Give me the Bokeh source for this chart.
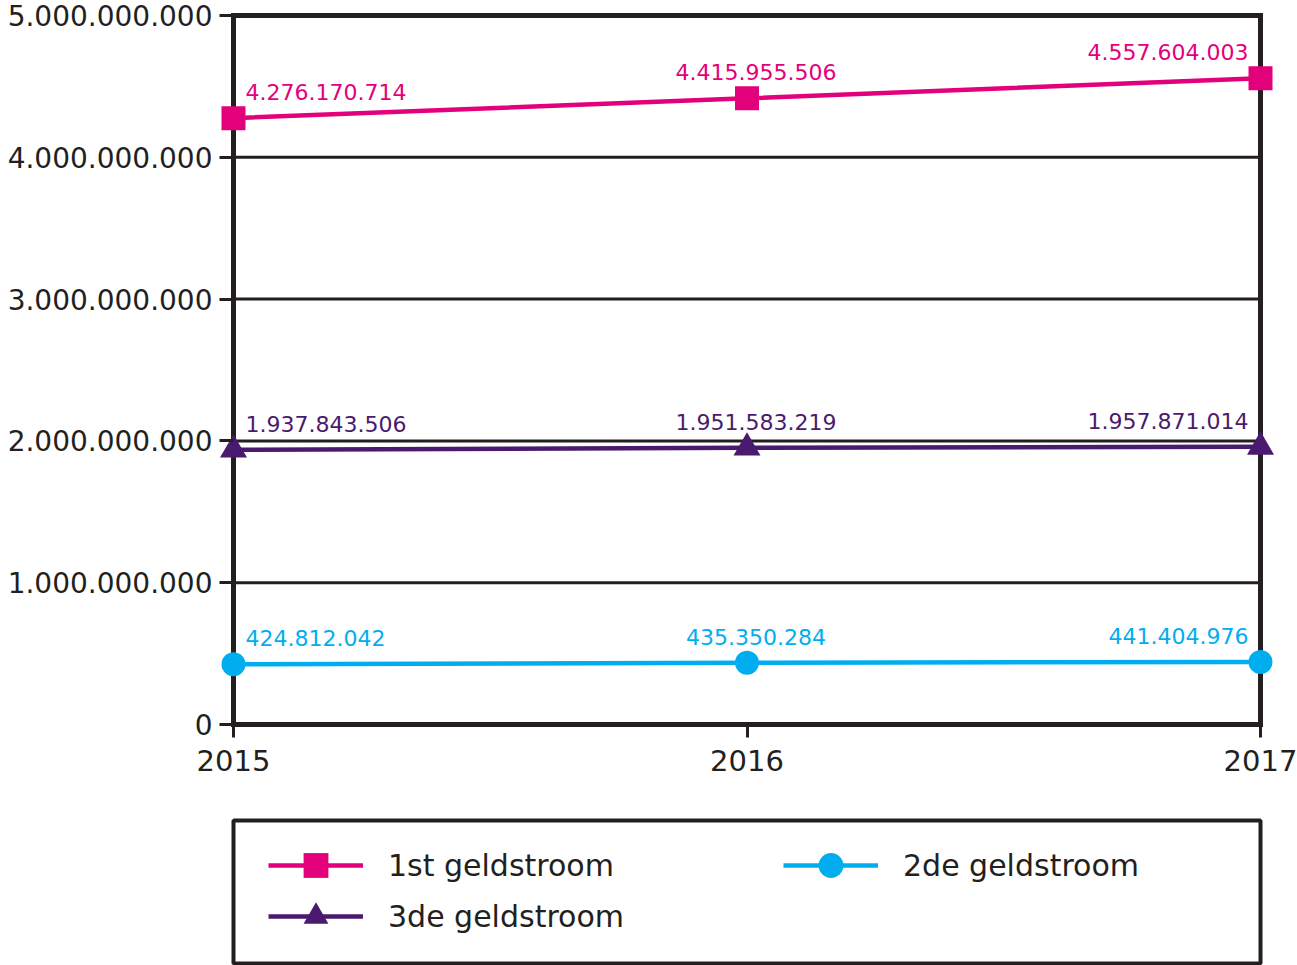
from bokeh.plotting import figure
from bokeh.models import Range1d, FixedTicker, ColumnDataSource, Legend, LegendItem
from bokeh.embed import file_html
from bokeh.resources import INLINE
from bokeh.core.properties import value, field

# ---- data ----
years = [2015, 2016, 2017]
first_stream = [4276170714, 4415955506, 4557604003]
second_stream = [424812042, 435350284, 441404976]
third_stream = [1937843506, 1951583219, 1957871014]
series_names = ["1st geldstroom", "2de geldstroom", "3de geldstroom"]
yticks = [0, 1000000000, 2000000000, 3000000000, 4000000000, 5000000000]
ytick_labels = ["0", "1.000.000.000", "2.000.000.000", "3.000.000.000",
                "4.000.000.000", "5.000.000.000"]


def fmt(v):
    return f"{v:,}".replace(",", ".")


# ---- styles ----
INK = "#231f20"
PINK = "#e3007b"
CYAN = "#00aeef"
PURPLE = "#4a1a6e"
FONT = "DejaVu Sans"
label_align = ["left", "center", "right"]
label_xoff = [12, 9, -12]

px_per_year = 1027 / 2
x_pad = 14 / px_per_year
px_per_unit = 709 / yticks[-1]
y_pad = 4 / px_per_unit

p = figure(frame_width=1055, frame_height=717,
           x_range=Range1d(years[0] - x_pad, years[-1] + x_pad),
           y_range=Range1d(yticks[0] - y_pad, yticks[-1] + y_pad),
           min_border_left=219, min_border_right=23,
           min_border_top=11, min_border_bottom=62,
           output_backend="svg", toolbar_location=None)
p.outline_line_color = None
p.xgrid.visible = False
p.ygrid.visible = False
p.background_fill_color = "white"
p.border_fill_color = "white"

ya = p.yaxis[0]
ya.ticker = FixedTicker(ticks=yticks)
ya.major_label_overrides = {t: l for t, l in zip(yticks, ytick_labels)}
ya.axis_line_color = None
ya.major_tick_in = 14
ya.major_tick_out = 0
ya.major_tick_line_width = 3
ya.major_tick_line_color = INK
ya.minor_tick_line_color = None
ya.major_label_standoff = 7
ya.major_label_text_font = FONT
ya.major_label_text_font_size = "28px"
ya.major_label_text_color = INK

xa = p.xaxis[0]
xa.ticker = FixedTicker(ticks=years)
xa.axis_line_color = None
xa.major_tick_in = 4
xa.major_tick_out = 9
xa.major_tick_line_width = 3
xa.major_tick_line_color = INK
xa.minor_tick_line_color = None
xa.major_label_standoff = 12
xa.major_label_text_font = FONT
xa.major_label_text_font_size = "29px"
xa.major_label_text_color = INK

# inner gridlines
inner = yticks[1:-1]
p.segment(x0=[years[0]] * len(inner), x1=[years[-1]] * len(inner),
          y0=inner, y1=inner, line_color=INK, line_width=3)
# frame border
p.segment(x0=[years[0], years[0], years[0], years[-1]],
          x1=[years[-1], years[-1], years[0], years[-1]],
          y0=[yticks[0], yticks[-1], yticks[0], yticks[0]],
          y1=[yticks[0], yticks[-1], yticks[-1], yticks[-1]],
          line_color=INK, line_width=5, line_cap="square")

series = [
    (first_stream, PINK, "square", 24),
    (second_stream, CYAN, "circle", 24),
    (third_stream, PURPLE, "triangle", 27),
]

for vals, col, mk, sz in series:
    p.line(years, vals, line_color=col, line_width=4.5)
for vals, col, mk, sz in series:
    p.scatter(years, vals, marker=mk, size=sz, fill_color=col, line_color=None)
for vals, col, mk, sz in series:
    src = ColumnDataSource(dict(x=years, y=vals, text=[fmt(v) for v in vals],
                                align=label_align, xoff=label_xoff))
    p.text(x="x", y="y", text="text", source=src, text_align=field("align"),
           x_offset=field("xoff"), y_offset=-26, text_baseline="alphabetic",
           text_font=value(FONT), text_font_size="22px", text_color=col)

# ---- legend panel ----
p2 = figure(frame_width=1027, frame_height=143,
            min_border_left=233, min_border_right=37,
            min_border_top=30, min_border_bottom=2,
            x_range=Range1d(0, 1), y_range=Range1d(0, 1),
            x_axis_type=None, y_axis_type=None,
            output_backend="svg", toolbar_location=None)
p2.outline_line_color = INK
p2.outline_line_width = 4
p2.background_fill_color = "white"
p2.border_fill_color = "white"

nan = float("nan")
legend_pos = [(35, 67), (550, 67), (35, 16)]
for (vals, col, mk, sz), name, loc in zip(series, series_names, legend_pos):
    rl = p2.line(x=[nan], y=[nan], line_color=col, line_width=4.5)
    rm = p2.scatter(x=[nan], y=[nan], marker=mk, size=sz, fill_color=col, line_color=None)
    lg = Legend(items=[LegendItem(label=name, renderers=[rl, rm])],
                location=loc, orientation="vertical",
                glyph_width=95, glyph_height=62, label_standoff=25,
                padding=0, margin=0, border_line_color=None,
                background_fill_alpha=0,
                label_text_font=FONT, label_text_font_size="30px",
                label_text_color=INK)
    p2.add_layout(lg)

open("out.html", "w").write(file_html([p, p2], INLINE))
